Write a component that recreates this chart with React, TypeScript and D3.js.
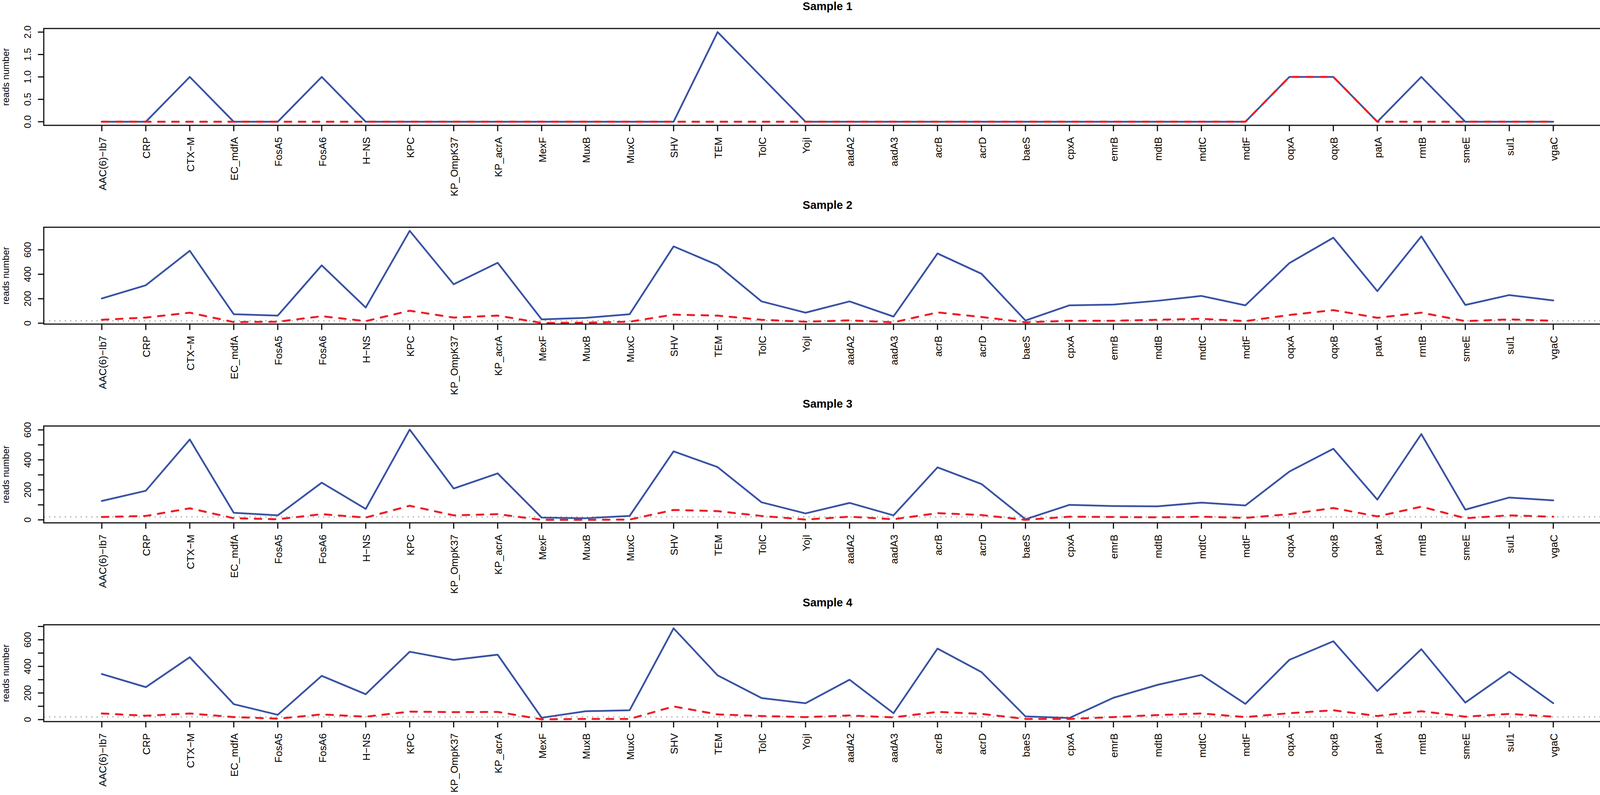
import React, { useEffect } from 'react';
import * as d3 from 'd3';

const genes = [
  'AAC(6)−Ib7', 'CRP', 'CTX−M', 'EC_mdfA', 'FosA5', 'FosA6', 'H−NS', 'KPC',
  'KP_OmpK37', 'KP_acrA', 'MexF', 'MuxB', 'MuxC', 'SHV', 'TEM', 'TolC', 'YojI',
  'aadA2', 'aadA3', 'acrB', 'acrD', 'baeS', 'cpxA', 'emrB', 'mdtB', 'mdtC',
  'mdtF', 'oqxA', 'oqxB', 'patA', 'rmtB', 'smeE', 'sul1', 'vgaC',
];

const sample1Blue = [0, 0, 1, 0, 0, 1, 0, 0, 0, 0, 0, 0, 0, 0, 2, 1, 0, 0, 0, 0, 0, 0, 0, 0, 0, 0, 0, 1, 1, 0, 1, 0, 0, 0];
const sample1Red = [0, 0, 0, 0, 0, 0, 0, 0, 0, 0, 0, 0, 0, 0, 0, 0, 0, 0, 0, 0, 0, 0, 0, 0, 0, 0, 0, 1, 1, 0, 0, 0, 0, 0];

const sample2Blue = [202, 310, 592, 73, 62, 473, 128, 755, 318, 494, 31, 44, 73, 628, 475, 178, 86, 178, 54, 570, 404, 22, 146, 152, 183, 223, 146, 491, 699, 262, 710, 149, 230, 186];
const sample2Red = [28, 46, 86, 9, 12, 57, 17, 102, 46, 62, 2, 4, 12, 70, 62, 28, 12, 23, 7, 88, 51, 7, 20, 20, 28, 36, 17, 67, 107, 44, 86, 17, 31, 20];

const sample3Blue = [126, 194, 536, 47, 30, 248, 73, 602, 209, 310, 15, 11, 26, 457, 352, 117, 43, 113, 30, 350, 239, 4, 100, 92, 90, 115, 96, 322, 474, 135, 572, 68, 149, 130];
const sample3Red = [19, 26, 77, 11, 4, 38, 15, 94, 30, 38, 0, 0, 2, 66, 58, 26, 2, 21, 4, 45, 32, 0, 21, 19, 17, 21, 13, 38, 79, 23, 88, 11, 30, 21];

const sample4Blue = [343, 244, 469, 116, 36, 329, 191, 510, 449, 488, 14, 63, 70, 686, 333, 162, 123, 300, 48, 534, 357, 24, 12, 164, 261, 336, 118, 449, 589, 215, 529, 128, 360, 123];
const sample4Red = [46, 29, 46, 19, 7, 39, 22, 60, 56, 58, 2, 5, 5, 99, 39, 27, 19, 31, 17, 58, 43, 5, 5, 19, 34, 46, 19, 48, 70, 27, 63, 22, 43, 22];

const titles = ['Sample 1', 'Sample 2', 'Sample 3', 'Sample 4'];
const yTicks = [
  [0, 0.5, 1, 1.5, 2],
  [0, 200, 400, 600],
  [0, 100, 200, 300, 400, 500, 600],
  [0, 100, 200, 300, 400, 500, 600, 700],
];
const yTickLabels = [
  ['0.0', '0.5', '1.0', '1.5', '2.0'],
  ['0', '200', '400', '600'],
  ['0', '', '200', '', '400', '', '600'],
  ['0', '', '200', '', '400', '', '600', ''],
];
const threshold = 20;

const panels = [
  { blue: sample1Blue, red: sample1Red },
  { blue: sample2Blue, red: sample2Red },
  { blue: sample3Blue, red: sample3Red },
  { blue: sample4Blue, red: sample4Red },
];

const W = 4128;
const H = 2036;
const panelH = 509;
const margin = { top: 73, bottom: 188, left: 112, right: 3 };
const font = 'Liberation Sans, Arial, Helvetica, sans-serif';
const blue = '#3852a3';
const red = '#ee1d26';

const Panel: React.FC<{ idx: number }> = ({ idx }) => {
  const { blue: b, red: r } = panels[idx];
  const top = idx * panelH + margin.top;
  const bottom = (idx + 1) * panelH - margin.bottom;
  const n = genes.length;

  const x = d3
    .scaleLinear()
    .domain([1 - 0.04 * (n - 1), n + 0.04 * (n - 1)])
    .range([margin.left, W - margin.right]);

  const [lo, hi] = d3.extent(b) as [number, number];
  const ext = (hi - lo) * 0.04;
  const y = d3.scaleLinear().domain([lo - ext, hi + ext]).range([bottom, top]);

  const line = d3
    .line<number>()
    .x((_, i) => x(i + 1))
    .y((d) => y(d));

  const showThreshold = threshold >= lo - ext && threshold <= hi + ext;

  return (
    <g>
      <text
        x={(margin.left + W - margin.right) / 2}
        y={idx * panelH + 26}
        textAnchor="middle"
        fontFamily={font}
        fontWeight="bold"
        fontSize={29}
      >
        {titles[idx]}
      </text>

      {showThreshold && (
        <line
          x1={margin.left}
          x2={W - margin.right}
          y1={y(threshold)}
          y2={y(threshold)}
          stroke="#a8a8a8"
          strokeWidth={3}
          strokeDasharray="3 10.5"
        />
      )}

      <path d={line(b) || ''} fill="none" stroke={blue} strokeWidth={4.5} strokeLinejoin="round" strokeLinecap="round" />
      <path
        d={line(r) || ''}
        fill="none"
        stroke={red}
        strokeWidth={5}
        strokeDasharray="17 19"
        strokeLinejoin="round"
        strokeLinecap="round"
      />

      <rect
        x={margin.left}
        y={top}
        width={W - margin.right - margin.left}
        height={bottom - top}
        fill="none"
        stroke="#111"
        strokeWidth={3}
      />

      {/* y axis */}
      {yTicks[idx].map((t, i) => (
        <g key={`y${i}`}>
          <line x1={margin.left - 15} x2={margin.left} y1={y(t)} y2={y(t)} stroke="#111" strokeWidth={3} />
          {yTickLabels[idx][i] && (
            <text
              transform={`translate(79,${y(t)}) rotate(-90)`}
              textAnchor="middle"
              fontFamily={font}
              fontSize={24}
            >
              {yTickLabels[idx][i]}
            </text>
          )}
        </g>
      ))}
      <text
        transform={`translate(23,${(top + bottom) / 2}) rotate(-90)`}
        textAnchor="middle"
        fontFamily={font}
        fontSize={24}
      >
        reads number
      </text>

      {/* x axis */}
      {genes.map((g, i) => (
        <g key={g}>
          <line x1={x(i + 1)} x2={x(i + 1)} y1={bottom} y2={bottom + 15} stroke="#111" strokeWidth={3} />
          <text
            transform={`translate(${x(i + 1) + 11},${bottom + 30}) rotate(-90)`}
            textAnchor="end"
            fontFamily={font}
            fontSize={26}
          >
            {g}
          </text>
        </g>
      ))}
    </g>
  );
};

export default function App() {
  useEffect(() => {
    document.body.style.margin = '0';
  }, []);

  return (
    <svg width={W} height={H} style={{ display: 'block', background: '#fff' }}>
      <rect width={W} height={H} fill="#fff" />
      {panels.map((_, i) => (
        <Panel key={i} idx={i} />
      ))}
    </svg>
  );
}
